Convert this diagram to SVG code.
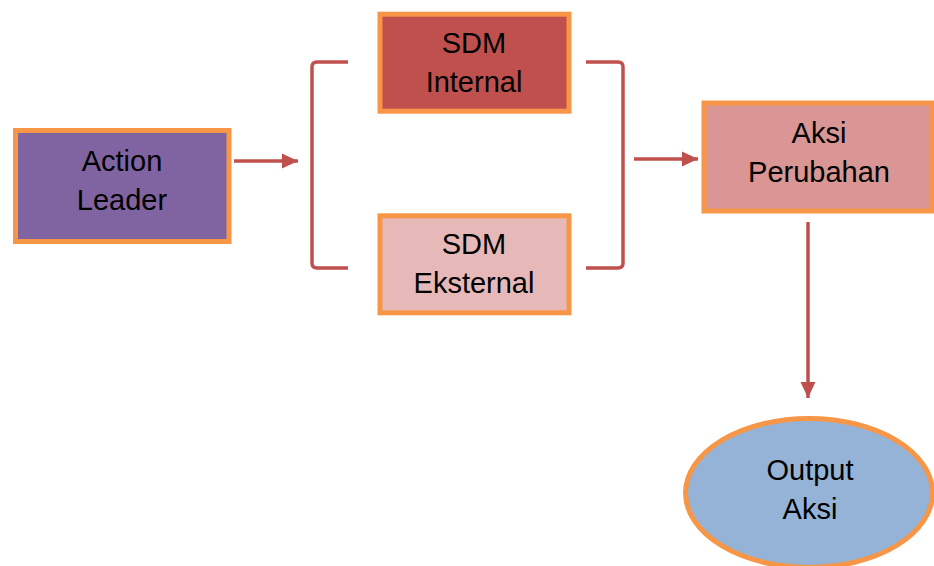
<svg xmlns="http://www.w3.org/2000/svg" width="934" height="566" viewBox="0 0 934 566">
<style>
.box{stroke:#F79646;stroke-width:5}
.lbl{font-family:"Liberation Sans",Arial,sans-serif;font-size:29px;fill:#000;text-anchor:middle}
.con{stroke:#C0504D;stroke-width:3.5;fill:none}
</style>
<defs>
<marker id="ah" markerUnits="userSpaceOnUse" markerWidth="18" markerHeight="18" viewBox="0 0 18 18" refX="16" refY="9" orient="auto">
<path d="M0,1.5 L16,9 L0,16.5 Z" fill="#C0504D"/>
</marker>
</defs>
<rect width="934" height="566" fill="#fff"/>
<g id="connectors">
<line class="con" x1="234" y1="161" x2="298" y2="161" marker-end="url(#ah)"/>
<path class="con" d="M348,62 H317 Q312,62 312,67 V263 Q312,268 317,268 H348"/>
<path class="con" d="M586,62 H618 Q623,62 623,67 V263 Q623,268 618,268 H586"/>
<line class="con" x1="634" y1="159" x2="698" y2="159" marker-end="url(#ah)"/>
<line class="con" x1="808" y1="222" x2="808" y2="398" marker-end="url(#ah)"/>
</g>
<g id="action-leader">
<rect class="box" x="15.5" y="130.5" width="213.5" height="111" fill="#8064A2"/>
<text class="lbl" x="122" y="171">Action</text>
<text class="lbl" x="122" y="209.5">Leader</text>
</g>
<g id="sdm-internal">
<rect class="box" x="380" y="14.2" width="189" height="97" fill="#C0504D"/>
<text class="lbl" x="474" y="53">SDM</text>
<text class="lbl" x="474" y="91.5">Internal</text>
</g>
<g id="sdm-eksternal">
<rect class="box" x="380" y="215.8" width="189" height="97" fill="#E6B9B8"/>
<text class="lbl" x="474" y="254">SDM</text>
<text class="lbl" x="474" y="293">Eksternal</text>
</g>
<g id="aksi-perubahan">
<rect class="box" x="704" y="103" width="228" height="108" fill="#D99694"/>
<text class="lbl" x="819" y="143">Aksi</text>
<text class="lbl" x="819" y="181.5">Perubahan</text>
</g>
<g id="output-aksi">
<ellipse class="box" cx="809" cy="493" rx="123.5" ry="74.5" fill="#95B3D7"/>
<text class="lbl" x="810" y="480">Output</text>
<text class="lbl" x="810" y="519">Aksi</text>
</g>
</svg>
